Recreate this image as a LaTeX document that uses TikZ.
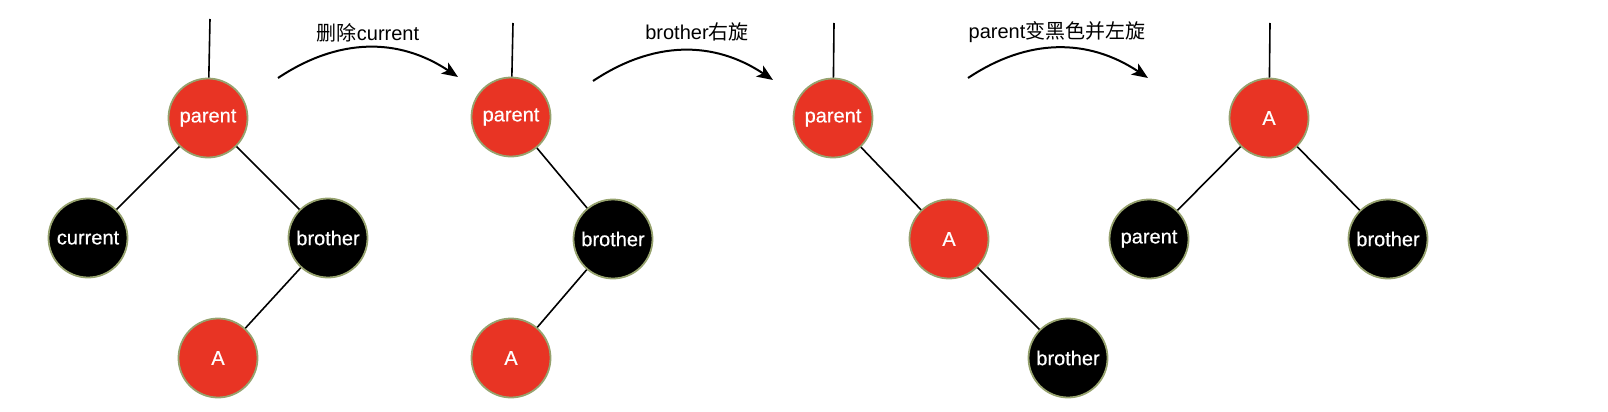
\documentclass[tikz,border=0pt]{standalone}
\usepackage{fontspec}
\setmainfont{Liberation Sans}
\newfontface\nodefont{Liberation Sans}[FakeBold=0.5]
\newfontfamily\cjk{Noto Sans CJK SC}
\usetikzlibrary{arrows.meta}
\definecolor{nodered}{RGB}{232,52,36}
\definecolor{rimgreen}{RGB}{150,162,110}

\begin{document}
\begin{tikzpicture}[x=1pt, y=-1pt, font=\fontsize{20}{24}\selectfont,
        rednode/.style={circle, draw=rimgreen, line width=1.8pt, fill=nodered, text=white, minimum size=79pt, inner sep=0pt, font=\nodefont\fontsize{20}{24}\selectfont},
        blacknode/.style={circle, draw=rimgreen, line width=1.8pt, fill=black, text=white, minimum size=79pt, inner sep=0pt, font=\nodefont\fontsize{20}{24}\selectfont},
        edge/.style={line width=1.6pt},
        move/.style={line width=2pt, -{Stealth[length=16pt, width=13pt, inset=4pt]}}]
        \useasboundingbox (0,0) rectangle (1608,412);

        \node[rednode] (p1) at (208, 118) {parent};
        \node[blacknode] (c1) at (88, 238) {current};
        \node[blacknode] (b1) at (328, 238) {brother};
        \node[rednode] (a1) at (218, 358) {A};
        \coordinate (t1) at (210, 19);

        \node[rednode] (p2) at (511, 117) {parent};
        \node[blacknode] (b2) at (613, 239) {brother};
        \node[rednode] (a2) at (511, 358) {A};
        \coordinate (t2) at (513, 23);

        \node[rednode] (p3) at (833, 118) {parent};
        \node[rednode] (a3) at (949, 239) {A};
        \node[blacknode] (b3) at (1068, 358) {brother};
        \coordinate (t3) at (834, 23);

        \node[rednode] (a4) at (1269, 118) {A};
        \node[blacknode] (p4) at (1149, 239) {parent};
        \node[blacknode] (b4) at (1388, 239) {brother};
        \coordinate (t4) at (1270, 23);

        \coordinate (s1) at (278, 78);
        \coordinate (e1) at (458, 77);
        \coordinate (s2) at (593, 81);
        \coordinate (e2) at (773, 80);
        \coordinate (s3) at (968, 78);
        \coordinate (e3) at (1148, 78);
        \node (l1) at (368, 33) {{\cjk 删除}current};
        \node (l2) at (697, 32) {brother{\cjk 右旋}};
        \node (l3) at (1057, 32) {parent{\cjk 变黑色并左旋}};

        \draw[edge] (t1) -- (p1);
        \draw[edge] (p1) -- (c1);
        \draw[edge] (p1) -- (b1);
        \draw[edge] (b1) -- (a1);

        \draw[edge] (t2) -- (p2);
        \draw[edge] (p2) -- (b2);
        \draw[edge] (b2) -- (a2);

        \draw[edge] (t3) -- (p3);
        \draw[edge] (p3) -- (a3);
        \draw[edge] (a3) -- (b3);

        \draw[edge] (t4) -- (a4);
        \draw[edge] (a4) -- (p4);
        \draw[edge] (a4) -- (b4);

        \draw[move] (s1) .. controls +(60, -40) and +(-60, -40) .. (e1);
        \draw[move] (s2) .. controls +(60, -40) and +(-60, -40) .. (e2);
        \draw[move] (s3) .. controls +(60, -40) and +(-60, -40) .. (e3);

    \end{tikzpicture}
\end{document}
